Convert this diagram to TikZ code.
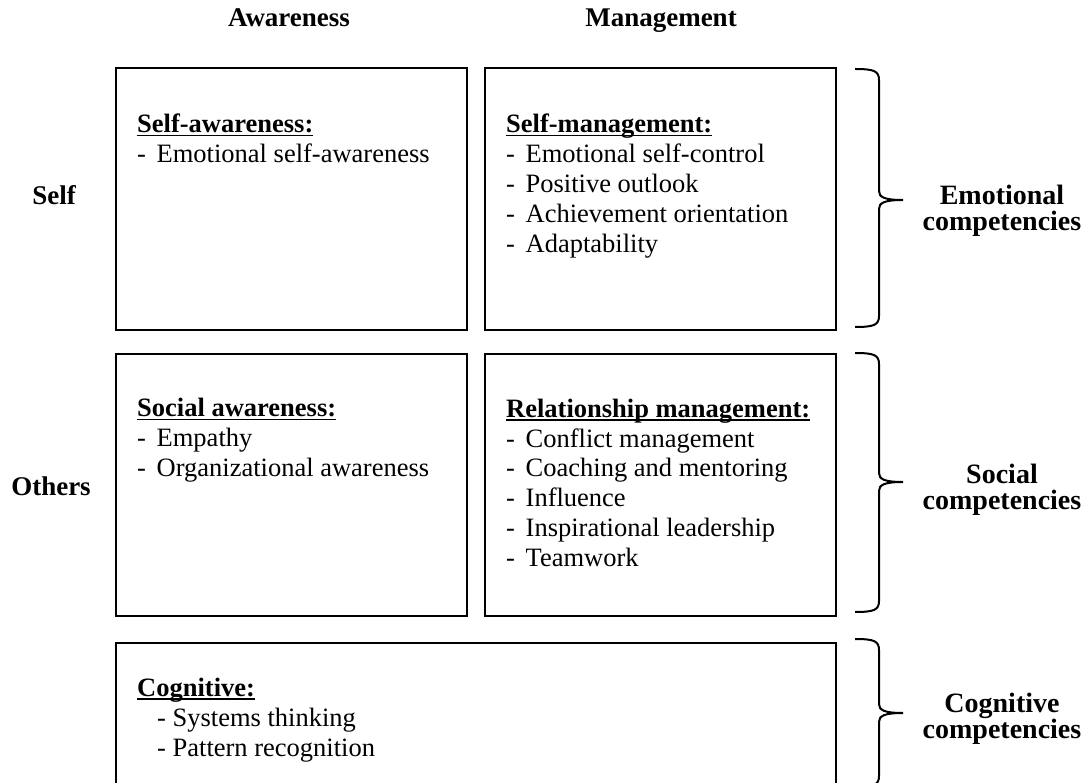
\documentclass[tikz,border=0pt]{standalone}
\usepackage{fontspec}
\setmainfont{Liberation Serif}
% bold heading with a rule through the descenders
\newcommand{\ulhead}[1]{\setbox0\hbox{\bfseries #1}\rlap{\rule[-3.5pt]{\wd0}{1.5pt}}\box0}
% one dashed entry of a list
\newcommand{\bul}[1]{\makebox[19.5pt][l]{-}#1}
% curly brace on the right: top, tip, bottom
\newcommand{\compbrace}[3]{%
  \draw[brc] (855,#1) .. controls (874,#1) and (879,{#1+2}) .. (879,{#1+11})
    -- (879,{#2-9}) .. controls (879,{#2-3}) and (884,#2) .. (903,#2)
    .. controls (884,#2) and (879,{#2+3}) .. (879,{#2+9})
    -- (879,{#3-11}) .. controls (879,{#3-2}) and (874,#3) .. (855,#3);}

\begin{document}
\begin{tikzpicture}[x=1pt, y=-1pt,
    box/.style={draw, line width=2.4pt, anchor=north west, inner sep=0pt,
      minimum width=351pt, minimum height=262pt},
    % the base of a list is the baseline of its last line
    txt/.style={anchor=base west, align=left, inner sep=0pt,
      font=\fontsize{26.5}{30}\selectfont},
    lbl/.style={align=center, inner sep=0pt,
      font=\fontsize{27}{26}\selectfont\bfseries},
    grp/.style={lbl, font=\fontsize{28}{26}\selectfont\bfseries},
    brc/.style={line width=2pt}]
  \path[use as bounding box] (0,0) rectangle (1088,783);
  \clip (0,0) rectangle (1088,783);

  % 1. Column and row headings
  \node[lbl, anchor=base] (aware) at (289,27) {Awareness};
  \node[lbl, anchor=base] (manage) at (661,27) {Management};
  \node[lbl, anchor=base] (self) at (54,205) {Self};
  \node[lbl, anchor=base] (others) at (51,496) {Others};

  % 2. The four quadrants and the cognitive row
  \node[box] (selfaw) at (115,67) {};
  \node[box] (selfmg) at (484,67) {};
  \node[box] (socaw) at (115,353) {};
  \node[box] (relmg) at (484,353) {};
  \node[box, minimum width=720pt, minimum height=170pt] (cog) at (115,642) {};

  % 3. Contents of the boxes
  \node[txt] (selfawtxt) at (137,163) {\ulhead{Self-awareness:}\\
    \bul{Emotional self-awareness}};
  \node[txt] (selfmgtxt) at (506,253) {\ulhead{Self-management:}\\
    \bul{Emotional self-control}\\ \bul{Positive outlook}\\
    \bul{Achievement orientation}\\ \bul{Adaptability}};
  \node[txt] (socawtxt) at (137,477) {\ulhead{Social awareness:}\\
    \bul{Empathy}\\ \bul{Organizational awareness}};
  \node[txt] (relmgtxt) at (506,567) {\ulhead{Relationship management:}\\
    \bul{Conflict management}\\ \bul{Coaching and mentoring}\\
    \bul{Influence}\\ \bul{Inspirational leadership}\\ \bul{Teamwork}};
  \node[txt] (cogtxt) at (137,756) {\ulhead{Cognitive:}\\
    \hspace*{20pt}- Systems thinking\\ \hspace*{20pt}- Pattern recognition};

  % 4. Braces and what they group
  \compbrace{69}{200}{327}
  \compbrace{353}{482}{612}
  \compbrace{639}{713}{787}
  \node[grp] (emo) at (1002,211) {Emotional\\competencies};
  \node[grp] (soc) at (1002,490) {Social\\competencies};
  \node[grp] (cogn) at (1002,719) {Cognitive\\competencies};
\end{tikzpicture}
\end{document}
